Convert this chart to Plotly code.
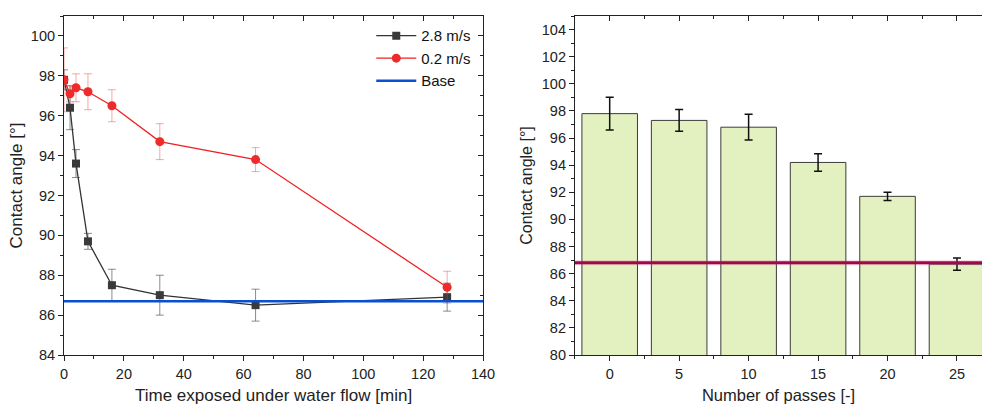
import plotly.graph_objects as go

# ---- Left chart data ----
time_min = [0, 2, 4, 8, 16, 32, 64, 128]
fast_angle = [97.8, 96.4, 93.6, 89.7, 87.5, 87.0, 86.5, 86.9]
fast_err = [0.5, 1.1, 0.7, 0.4, 0.8, 1.0, 0.8, 0.7]
slow_angle = [97.8, 97.1, 97.4, 97.2, 96.5, 94.7, 93.8, 87.4]
slow_err = [1.6, 0.4, 0.7, 0.9, 0.8, 0.9, 0.6, 0.8]
base_x = [0, 140]
base_angle = [86.7, 86.7]

# ---- Right chart data ----
passes = [0, 5, 10, 15, 20, 25]
pass_angle = [97.8, 97.3, 96.8, 94.2, 91.7, 86.7]
pass_err = [1.2, 0.8, 0.95, 0.65, 0.3, 0.45]
ref_angle = 86.8

FONT = "Liberation Sans, Arial, sans-serif"
fig = go.Figure()

fig.add_trace(go.Scatter(
    x=time_min, y=fast_angle, name="2.8 m/s", mode="lines+markers",
    line=dict(color="#333333", width=1.3),
    marker=dict(symbol="square", size=8, color="#3a3a3a"),
    error_y=dict(type="data", array=fast_err, color="rgba(110,110,110,0.8)",
                 thickness=1, width=4),
    xaxis="x", yaxis="y"))
fig.add_trace(go.Scatter(
    x=time_min, y=slow_angle, name="0.2 m/s", mode="lines+markers",
    line=dict(color="#f02020", width=1.3),
    marker=dict(symbol="circle", size=9, color="#ee2a2a"),
    error_y=dict(type="data", array=slow_err, color="rgba(240,60,60,0.45)",
                 thickness=1, width=4),
    xaxis="x", yaxis="y"))
fig.add_trace(go.Scatter(
    x=base_x, y=base_angle, name="Base", mode="lines",
    line=dict(color="#0a4fcf", width=2.5),
    xaxis="x", yaxis="y"))

fig.add_trace(go.Bar(
    x=passes, y=pass_angle, width=4, showlegend=False,
    marker=dict(color="#e3f0bf", line=dict(color="#3c3c3c", width=1)),
    error_y=dict(type="data", array=pass_err, color="#111111",
                 thickness=1.5, width=4),
    xaxis="x2", yaxis="y2"))
fig.add_trace(go.Scatter(
    x=[-2.5, 27.5], y=[ref_angle, ref_angle], mode="lines", showlegend=False,
    line=dict(color="rgba(200,90,140,0.25)", width=5),
    xaxis="x2", yaxis="y2", hoverinfo="skip"))
fig.add_trace(go.Scatter(
    x=[-2.5, 27.5], y=[ref_angle, ref_angle], mode="lines", showlegend=False,
    line=dict(color="#a3064b", width=3),
    xaxis="x2", yaxis="y2"))

# invisible traces so that the mirrored (top/right) frame axes are drawn
fig.add_trace(go.Scatter(x=[None], y=[None], xaxis="x3", yaxis="y3",
                         showlegend=False, hoverinfo="skip"))
fig.add_trace(go.Scatter(x=[None], y=[None], xaxis="x4", yaxis="y2",
                         showlegend=False, hoverinfo="skip"))

tickfont = dict(family=FONT, size=14.5, color="#222")
common = dict(showline=True, linecolor="#222", linewidth=1.2, showgrid=False,
              zeroline=False, tickfont=tickfont, tickcolor="#222", ticklen=5,
              tickwidth=1.2)

L = [0.0652, 0.4919]
R = [0.5855, 1.0]

fig.update_layout(
    width=982, height=406,
    margin=dict(l=0, r=0, t=16, b=51),
    paper_bgcolor="white", plot_bgcolor="white",
    font=dict(family=FONT, color="#222"),
    barmode="overlay",
    xaxis=dict(domain=L, range=[0, 140], dtick=20, ticks="outside", anchor="y",
               minor=dict(dtick=10, ticks="outside", ticklen=3, tickcolor="#222"),
               title=dict(text="Time exposed under water flow [min]",
                          font=dict(size=17, family=FONT), standoff=8),
               automargin=False, **common),
    yaxis=dict(domain=[0, 1], range=[84, 101], dtick=2, tick0=84, ticks="outside",
               anchor="x",
               minor=dict(dtick=1, ticks="outside", ticklen=3, tickcolor="#222"),
               title=dict(text="Contact angle [°]", font=dict(size=17, family=FONT),
                          standoff=3),
               automargin=False, **common),
    xaxis3=dict(overlaying="x", side="top", anchor="y", range=[0, 140], dtick=20,
                ticks="inside", showticklabels=False,
                minor=dict(dtick=10, ticks="inside", ticklen=3, tickcolor="#222"),
                **common),
    yaxis3=dict(overlaying="y", side="right", anchor="x", range=[84, 101], dtick=2,
                tick0=84, ticks="inside", showticklabels=False,
                minor=dict(dtick=1, ticks="inside", ticklen=3, tickcolor="#222"),
                **common),
    xaxis2=dict(domain=R, range=[-2.5, 26.8], tickvals=passes, ticks="outside",
                anchor="y2",
                minor=dict(tickvals=[-2.5, 2.5, 7.5, 12.5, 17.5, 22.5], ticks="outside",
                           ticklen=3, tickcolor="#222"),
                title=dict(text="Number of passes [-]",
                           font=dict(size=16.5, family=FONT), standoff=8),
                automargin=False, **common),
    yaxis2=dict(domain=[0, 1], range=[80, 105], dtick=2, tick0=80, ticks="outside",
                anchor="x2",
                minor=dict(dtick=1, ticks="outside", ticklen=3, tickcolor="#222"),
                title=dict(text="Contact angle [°]", font=dict(size=16, family=FONT),
                           standoff=5),
                automargin=False, **common),
    xaxis4=dict(overlaying="x2", side="top", anchor="y2", range=[-2.5, 26.8],
                tickvals=passes, ticks="inside", showticklabels=False,
                minor=dict(tickvals=[-2.5, 2.5, 7.5, 12.5, 17.5, 22.5], ticks="inside",
                           ticklen=3, tickcolor="#222"),
                **common),
    legend=dict(x=0.485, y=0.99, xanchor="right", yanchor="top",
                bgcolor="rgba(0,0,0,0)", font=dict(size=15, family=FONT, color="#111"),
                tracegroupgap=0, itemwidth=40),
    showlegend=True,
)

fig.write_html("out.html", post_script="document.body.style.margin='0';",
               config={"displayModeBar": False})
